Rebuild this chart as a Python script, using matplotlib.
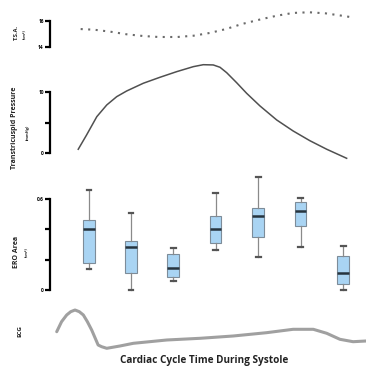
import matplotlib
matplotlib.use("Agg")
import matplotlib.pyplot as plt

plt.rcParams['font.family'] = ['Open Sans', 'DejaVu Sans']

# time axis: percent of systole
tsa_t = [1, 6, 12, 18, 24, 30, 37, 43, 49, 55, 61, 68, 74, 80, 86, 92, 99, 102]
tsa_v = [15.38, 15.33, 15.18, 14.98, 14.85, 14.77, 14.77, 14.87, 15.08, 15.38,
         15.77, 16.13, 16.41, 16.62, 16.67, 16.59, 16.38, 16.28]

pres_t = [0.1, 3.2, 7.0, 10.7, 14.4, 18.1, 24.3, 30.5, 36.7, 42.9, 46.6, 50.3,
          52.8, 55.3, 59.0, 62.7, 67.7, 73.9, 80.0, 86.2, 92.5, 99.9]
pres_v = [0.66, 3.0, 6.0, 7.92, 9.28, 10.21, 11.48, 12.46, 13.38, 14.2, 14.52, 14.48,
          14.1, 13.21, 11.57, 9.84, 7.75, 5.46, 3.66, 2.07, 0.66, -0.82]

box_t = [4.1, 19.7, 35.4, 51.2, 67.0, 82.8, 98.6]
ero_low = [0.138, 0.0, 0.059, 0.262, 0.22, 0.282, 0.0]
ero_q1 = [0.178, 0.114, 0.088, 0.312, 0.351, 0.424, 0.038]
ero_med = [0.402, 0.282, 0.147, 0.402, 0.49, 0.523, 0.11]
ero_q3 = [0.462, 0.323, 0.237, 0.488, 0.539, 0.582, 0.224]
ero_high = [0.659, 0.506, 0.279, 0.638, 0.747, 0.605, 0.292]

ecg_t = [-7.9, -6.1, -4.2, -2.7, -1.1, 0.5, 2.0, 3.5, 5.1, 7.5, 8.8, 10.7, 15.6,
         20.6, 33.0, 45.4, 57.7, 70.1, 80.0, 87.5, 92.5, 97.4, 102.3, 107.1]
ecg_v = [1.83, 2.83, 3.5, 3.83, 4.0, 3.83, 3.5, 2.83, 2.0, 0.5, 0.33, 0.17, 0.4,
         0.67, 1.0, 1.17, 1.4, 1.73, 2.07, 2.07, 1.67, 1.07, 0.83, 0.9]

W, H = 366, 372
fig = plt.figure(figsize=(W / 100, H / 100), dpi=100)

xl = (-10.4, 107.1)
left = 50 / W


def make_ax(ytop, ybot):
    ax = fig.add_axes([left, 1 - ybot / H, 1 - left, (ybot - ytop) / H])
    ax.set_xlim(xl)
    for s in ['top', 'right', 'bottom']:
        ax.spines[s].set_visible(False)
    ax.set_xticks([])
    ax.patch.set_alpha(0)
    ax.spines['left'].set_linewidth(1.6)
    ax.tick_params(axis='y', direction='out', length=3.5, width=1.6,
                   labelsize=3.5, pad=1)
    return ax


def style_labels(ax):
    for lab in ax.get_yticklabels():
        lab.set_fontweight('bold')


# T.S.A.
ax1 = make_ax(5, 50)
ax1.set_ylim(13.77, 17.23)
ax1.spines['left'].set_bounds(14, 16)
ax1.set_yticks([14, 16])
style_labels(ax1)
ax1.plot(tsa_t, tsa_v, color='#6a6a6a', lw=1.5, linestyle=(0, (1.0, 2.6)),
         dash_capstyle='butt')

# Transtricuspid pressure
ax2 = make_ax(55, 165)
ax2.set_ylim(-1.92, 16.11)
ax2.spines['left'].set_bounds(0, 10)
ax2.set_yticks([0, 5, 10])
ax2.set_yticklabels(['0', '', '10'])
style_labels(ax2)
ax2.plot(pres_t, pres_v, color='#505050', lw=1.1)

# ERO area
ax3 = make_ax(172, 296)
ax3.set_ylim(-0.0396, 0.778)
ax3.spines['left'].set_bounds(0, 0.6)
ax3.set_yticks([0, 0.2, 0.4, 0.6])
ax3.set_yticklabels(['0', '', '', '0.6'])
style_labels(ax3)
stats = []
for i in range(len(box_t)):
    stats.append(dict(whislo=ero_low[i], q1=ero_q1[i], med=ero_med[i],
                      q3=ero_q3[i], whishi=ero_high[i], fliers=[]))
ax3.bxp(stats, positions=box_t, widths=4.3, patch_artist=True,
        manage_ticks=False, capwidths=1.8,
        boxprops=dict(facecolor='#a9d4f3', edgecolor='#7d8c99', lw=0.8),
        medianprops=dict(color='#26343e', lw=1.8),
        whiskerprops=dict(color='#8a8a8a', lw=0.9),
        capprops=dict(color='#555555', lw=1.6))

# ECG
ax4 = make_ax(300, 352)
ax4.set_ylim(-0.2, 5.0)
ax4.spines['left'].set_visible(False)
ax4.set_yticks([])
ax4.plot(ecg_t, ecg_v, color='#a0a0a0', lw=2.2, solid_capstyle='round',
         solid_joinstyle='round', clip_on=False)

# labels
def ftext(x, y, s, size, weight='bold'):
    fig.text(x / W, 1 - y / H, s, rotation=90, ha='center', va='center',
             fontsize=size, fontweight=weight, color='#222222')

ftext(16, 32, 'T.S.A.', 4.2)
ftext(25, 34, '(cm²)', 2.8)
ftext(15, 128, 'Transtricuspid Pressure', 5.0)
ftext(28, 132, '(mmHg)', 2.8)
ftext(16, 252, 'ERO Area', 5.0)
ftext(27, 252, '(cm²)', 2.8)
ftext(20, 331, 'ECG', 4.5)

fig.text(204 / W, 1 - 361 / H, 'Cardiac Cycle Time During Systole',
         ha='center', va='center', fontsize=7.2, fontweight='bold',
         color='#222222')

fig.savefig('out.png', dpi=100)
